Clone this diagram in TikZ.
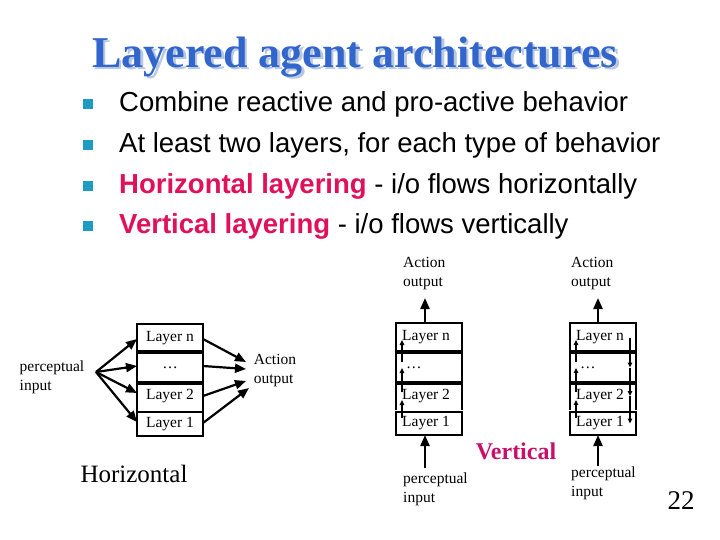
\documentclass[tikz,border=0pt]{standalone}
\usepackage{fontspec}
\setmainfont{Liberation Serif}
\newfontfamily\bsans{Liberation Sans}
\usetikzlibrary{arrows.meta}
\definecolor{ttl}{HTML}{3366CC}
\definecolor{shd}{HTML}{B8C8E0}
\definecolor{bul}{HTML}{1E9BC0}
\definecolor{emp}{HTML}{E0105A}
\definecolor{vrt}{HTML}{C8106A}
\begin{document}
\begin{tikzpicture}[x=1pt,y=-1pt,
  lay/.style={draw,line width=2.2pt,minimum width=66pt,inner sep=0pt,outer sep=0pt,font=\fontsize{15.5}{17}\selectfont},
  dtext/.style={font=\fontsize{15.5}{19}\selectfont,align=left,inner sep=0pt},
  arr/.style={line width=2.2pt,-{Triangle[length=11pt,width=9pt]}},
  sarr/.style={line width=1.5pt,-{Triangle[length=5pt,width=4.5pt]}},
  bl/.style={text=black,anchor=west,inner sep=0pt,font=\bsans\fontsize{27.5}{30}\selectfont},
  sq/.style={fill=bul,minimum size=10pt,inner sep=0pt}]
\useasboundingbox (0,0) rectangle (720,540);
% title
\node[text=shd,font=\bfseries\fontsize{44}{48}\selectfont] (tshadow) at (357.5,59.5) {Layered agent architectures};
\node[text=ttl,font=\bfseries\fontsize{44}{48}\selectfont] (title) at (355,57) {Layered agent architectures};
% bullets
\foreach \y/\n in {104/a,145/b,186/c,226/d}{\node[sq] (s\n) at (88,\y) {};}
\node[bl] (ba) at (119,104) {Combine reactive and pro-active behavior};
\node[bl] (bb) at (119,145) {At least two layers, for each type of behavior};
\node[bl] (bc) at (119,186) {\textcolor{emp}{\bfseries Horizontal layering} - i/o flows horizontally};
\node[bl] (bd) at (119,226) {\textcolor{emp}{\bfseries Vertical layering} - i/o flows vertically};
% ---------- Horizontal ----------
\node[lay,minimum height=28pt] (hn) at (170,338) {Layer n};
\node[lay,minimum height=31pt] (hd) at (170,367.5) {\dots};
\node[lay,minimum height=27pt] (h2) at (170,396.5) {Layer 2};
\node[lay,minimum height=24pt] (h1) at (170,424) {Layer 1};
\draw[line width=4pt] (hd.north west) -- (hd.north east) (hd.south west) -- (hd.south east);
\draw[white,line width=1.2pt] ([xshift=1.1pt]h2.south west) -- ([xshift=-1.1pt]h2.south east);
\node[dtext] (hin) at (52,377) {perceptual\\input};
\coordinate (hsrc) at (96,372);
\foreach \t/\yy in {hn/339,hd/366,h2/393,h1/422}{\draw[arr] (hsrc) -- (\t.west |- 0,\yy);}
\node[dtext] (hout) at (275,371) {Action\\output};
\coordinate (o1) at (246,362); \coordinate (o2) at (246,369);
\coordinate (o3) at (246,381); \coordinate (o4) at (249,388);
\draw[arr] (hn.east |- 0,339) -- (o1);
\draw[arr] (hd.east |- 0,366) -- (o2);
\draw[arr] (h2.east |- 0,396) -- (o3);
\draw[arr] (h1.east |- 0,423) -- (o4);
\node[font=\fontsize{25}{27}\selectfont] (hlab) at (134,474) {Horizontal};
% ---------- Vertical 1 and 2 ----------
\foreach \p/\cx in {a/429,b/603}{
  \node[lay,minimum height=29pt] (\p n) at (\cx,337.5) {};
  \node[lay,minimum height=31pt] (\p d) at (\cx,367.5) {};
  \node[lay,minimum height=26pt] (\p 2) at (\cx,396) {};
  \node[lay,minimum height=23pt] (\p 1) at (\cx,423.5) {};
  \draw[line width=4pt] (\p d.north west) -- (\p d.north east) (\p d.south west) -- (\p d.south east);
  \draw[white,line width=1.2pt] ([xshift=1.1pt]\p 2.south west) -- ([xshift=-1.1pt]\p 2.south east);
  \node[dtext,anchor=west] at ([xshift=6pt]\p n.west) {Layer n};
  \node[dtext,anchor=west] at ([xshift=10pt]\p d.west) {\dots};
  \node[dtext,anchor=west] at ([xshift=6pt]\p 2.west) {Layer 2};
  \node[dtext,anchor=west] at ([xshift=6pt]\p 1.west) {Layer 1};
  \draw[sarr] ([xshift=6pt]\p d.west |- 0,362) -- ([xshift=6pt]\p n.west |- 0,340);
  \draw[sarr] ([xshift=6pt]\p 2.west |- 0,392) -- ([xshift=6pt]\p d.west |- 0,368);
  \draw[sarr] ([xshift=6pt]\p 1.west |- 0,418) -- ([xshift=6pt]\p 2.west |- 0,400);
}
\foreach \a/\b in {n/d,d/2,2/1}{
  \draw[sarr] ([xshift=-6pt]b\a.east |- b\a.center) -- ([xshift=-6pt]b\b.east |- b\b.center);}
\node[dtext,anchor=north west] (ao1) at (403,257) {Action\\output};
\node[dtext,anchor=north west] (ao2) at (571,257) {Action\\output};
\coordinate (t1) at (425,298); \coordinate (t2) at (598,298);
\draw[arr] (an.north -| t1) -- (t1);
\draw[arr] (bn.north -| t2) -- (t2);
\node[dtext,anchor=north west] (pi1) at (403,473) {perceptual\\input};
\node[dtext,anchor=north west] (pi2) at (571,467) {perceptual\\input};
\coordinate (u1) at (425,468); \coordinate (u2) at (598,466);
\draw[arr] (u1) -- (a1.south -| u1);
\draw[arr] (u2) -- (b1.south -| u2);
\node[text=vrt,font=\bfseries\fontsize{24}{26}\selectfont] (vlab) at (516,451) {Vertical};
\node[font=\fontsize{27}{29}\selectfont] (pg) at (681,501) {22};
\end{tikzpicture}
\end{document}
